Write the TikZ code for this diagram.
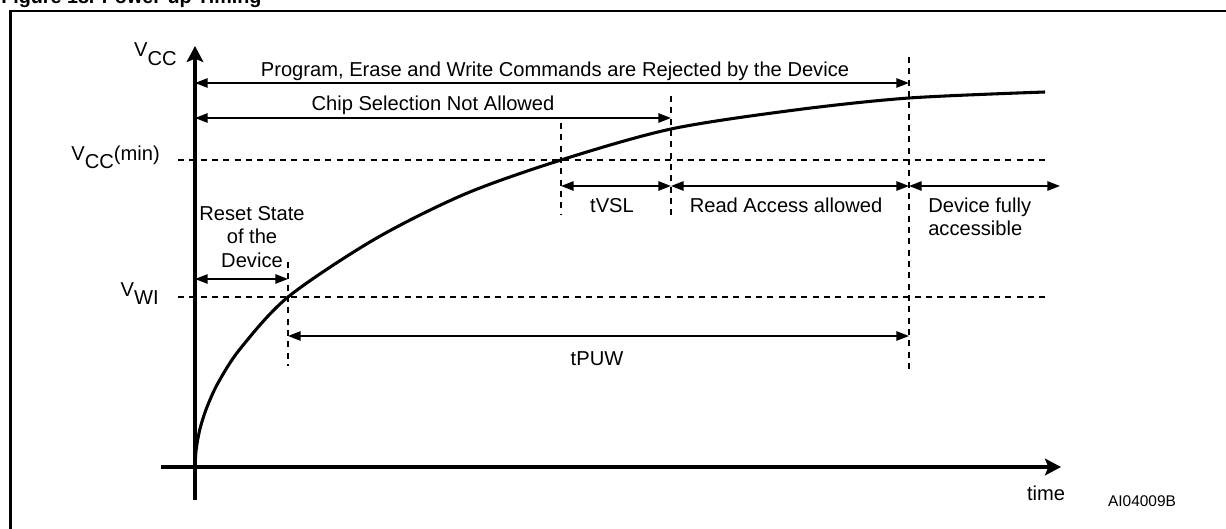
\documentclass[tikz,border=0pt]{standalone}
\usepackage{fontspec}
\setmainfont{Liberation Sans}
\usetikzlibrary{arrows.meta}
\begin{document}
\begin{tikzpicture}[x=0.75pt,y=-0.75pt,
  lbl/.style={font=\fontsize{15.1}{18}\selectfont, inner sep=0pt, anchor=base},
  small/.style={font=\fontsize{11.6}{14}\selectfont, inner sep=0pt, anchor=base},
  dimarrow/.style={line width=1.3pt, {Triangle[length=9.5pt,width=7pt]}-{Triangle[length=9.5pt,width=7pt]}},
  guide/.style={line width=0.9pt, dash pattern=on 4.5pt off 4pt},
  axisline/.style={line width=2.4pt, -{Stealth[length=12pt,width=12.5pt,inset=2.5pt]}},
  curveline/.style={line width=2.3pt},
]
\useasboundingbox (0,0) rectangle (1226,528);
\clip (0,0) rectangle (1226,528);

% title (cut off at the top) and frame
\node[anchor=base west, inner sep=0pt, font=\bfseries\fontsize{14.8}{17}\selectfont] (title) at (1,3.5) {Figure 18. Power-up Timing};
\draw[line width=2pt] (10.5,560) -- (10.5,11) -- (1260,11);

% key coordinates
\coordinate (O) at (195,467);
\coordinate (ytop) at (195,46);
\coordinate (ybot) at (195,500);
\coordinate (xl) at (161,467);
\coordinate (xr) at (1061,467);

% dashed level lines
\coordinate (minL) at (178,160);
\coordinate (minR) at (1047,160);
\coordinate (wiL) at (178,297);
\coordinate (wiR) at (1047,297);
\draw[guide] (minL) -- (minR);
\draw[guide] (wiL) -- (wiR);

% dashed verticals
\coordinate (v1t) at (288,262); \coordinate (v1b) at (288,366);
\coordinate (v2t) at (561,123); \coordinate (v2b) at (561,215);
\coordinate (v3t) at (671,96);  \coordinate (v3b) at (671,215);
\coordinate (v4t) at (909,57);  \coordinate (v4b) at (909,370);
\draw[guide] (v1t) -- (v1b);
\draw[guide] (v2t) -- (v2b);
\draw[guide] (v3t) -- (v3b);
\draw[guide] (v4t) -- (v4b);

% axes
\draw[axisline] (ybot) -- (ytop);
\draw[axisline] (xl) -- (xr);

% curve
\draw[curveline] plot[smooth, tension=0.5] coordinates {
 (195,467) (196,451) (198,438) (201,425) (207,407) (218,383) (240,349)
 (288,297) (375,239) (465,194) (561,160) (671,129) (795,110) (909,98) (1045,92)};

% dimension arrows
\coordinate (pA) at (195,83);  \coordinate (pB) at (909,83);
\coordinate (cA) at (195,118); \coordinate (cB) at (671,118);
\coordinate (rA) at (195,279); \coordinate (rB) at (288,279);
\coordinate (tA) at (288,336); \coordinate (tB) at (909,336);
\coordinate (s1) at (561,186); \coordinate (s2) at (671,186);
\coordinate (s3) at (909,186); \coordinate (s4) at (1060,186);
\draw[dimarrow] (pA) -- (pB);
\draw[dimarrow] (cA) -- (cB);
\draw[dimarrow] (rA) -- (rB);
\draw[dimarrow] (tA) -- (tB);
\draw[dimarrow] (s1) -- (s2);
\draw[dimarrow] (s2) -- (s3);
\draw[dimarrow] (s3) -- (s4);

% labels
\node[lbl, anchor=base east] (lvcc) at (177,57) {V\raisebox{-6pt}{CC}};
\node[lbl, anchor=base east] (lvmin) at (160,160) {V\raisebox{-6pt}{CC}(min)};
\node[lbl, anchor=base east] (lvwi) at (159,296) {V\raisebox{-6pt}{WI}};
\node[lbl] (tprog) at (555,76) {Program, Erase and Write Commands are Rejected by the Device};
\node[lbl] (tchip) at (433,110) {Chip Selection Not Allowed};
\node[lbl] (treset1) at (252,220) {Reset State};
\node[lbl] (treset2) at (252,243.5) {of the};
\node[lbl] (treset3) at (252,267) {Device};
\node[lbl] (tvsl) at (612,212) {tVSL};
\node[lbl] (tread) at (786,212) {Read Access allowed};
\node[lbl, anchor=base west] (tfull1) at (928,212) {Device fully};
\node[lbl, anchor=base west] (tfull2) at (928,235.5) {accessible};
\node[lbl] (tpuw) at (597,365) {tPUW};
\node[lbl] (ttime) at (1046,500) {time};
\node[small] (tid) at (1142,506) {AI04009B};
\end{tikzpicture}
\end{document}
